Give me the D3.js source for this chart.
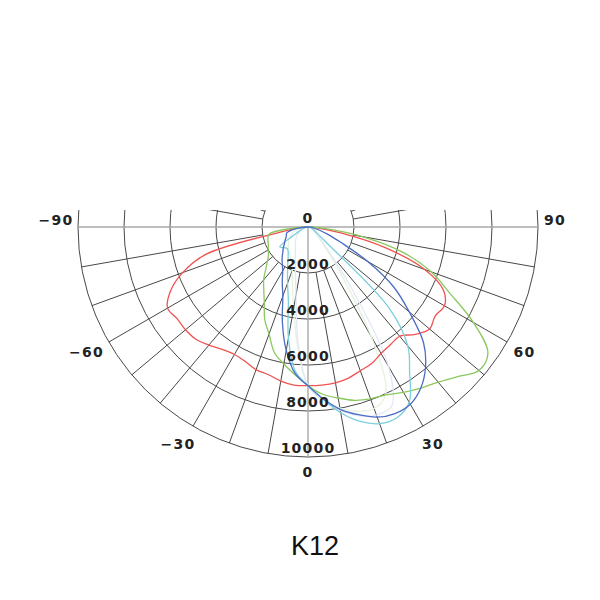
<!DOCTYPE html>
<html lang="en">
<head>
<meta charset="UTF-8">
<title>K12</title>
<style>
  body { margin: 0; background: #fff; }
  svg { display: block; background: #fff; }
  .grid { fill: none; stroke: #484848; stroke-width: 1; }
  .axis { stroke: #a8a8a8; stroke-width: 1.4; }
  .lbl { font-family: "DejaVu Sans", sans-serif; font-size: 14px; font-weight: bold; fill: #222; letter-spacing: 1.2px; }
  .title { font-family: "Liberation Sans", Arial, sans-serif; font-size: 27px; fill: #111; }
  .curve { fill: none; stroke-width: 1.3; }
</style>
</head>
<body>
<svg width="600" height="600"></svg>
<script src="https://cdnjs.cloudflare.com/ajax/libs/d3/7.8.5/d3.min.js"></script>
<script>
// gamma angles (deg), 0 = straight down, + to the right
const angles = [-90, -85, -80, -75, -70, -65, -60, -55, -50, -45, -40, -35, -30, -25, -20, -15, -10, -5,
  0, 5, 10, 15, 20, 25, 30, 35, 40, 45, 50, 55, 60, 65, 70, 75, 80, 85, 90];

// luminous intensity per plane (cd)
const red = [0, 300, 1000, 4600, 5800, 6600, 7050, 6950, 6950, 6900, 6700, 6500, 6400, 6450, 6600, 6650, 6800, 6900,
  6900, 6900, 6880, 6800, 6650, 6550, 6350, 6250, 6200, 6600, 6900, 6750, 6850, 6500, 5400, 3500, 1400, 300, 0];
const green = [0, 800, 1700, 1800, 1850, 1900, 2000, 2100, 2300, 2600, 3000, 3350, 3800, 4450, 4950, 5650, 6050, 6450,
  6900, 7300, 7550, 7800, 7950, 8050, 8300, 8550, 8800, 9200, 9700, 9550, 8300, 6800, 5700, 4300, 2400, 700, 0];
const blue = [0, 300, 700, 950, 1000, 1050, 1150, 1250, 1400, 1550, 1750, 1950, 2200, 2650, 3200, 4300, 5450, 6400,
  6900, 7500, 8050, 8450, 8800, 8950, 8900, 8550, 7950, 7100, 5750, 4550, 3000, 1550, 900, 500, 250, 100, 0];
const cyan = [0, 50, 100, 150, 250, 400, 700, 1500, 1400, 1300, 1350, 1500, 1750, 2100, 2600, 3300, 4900, 6300,
  6900, 7500, 8200, 8750, 9100, 9150, 8800, 7700, 6750, 5000, 1000, 500, 350, 250, 200, 150, 100, 50, 0];
const paleBlue = [0, 50, 100, 150, 250, 350, 450, 550, 650, 750, 850, 950, 1100, 1300, 1600, 2100, 3000, 5000,
  6900, 7600, 8100, 8500, 8700, 8600, 7000, 3500, 1500, 800, 500, 350, 250, 200, 150, 100, 80, 40, 0];
const paleGreen = [0, 100, 300, 500, 700, 800, 900, 1000, 1100, 1200, 1300, 1400, 1500, 1700, 2000, 2600, 3600, 5200,
  6900, 7500, 8000, 8300, 8400, 8000, 5500, 2500, 1200, 700, 450, 300, 200, 150, 120, 100, 70, 30, 0];

const ringTicks = [2000, 4000, 6000, 8000, 10000];
const angleLabels = [-90, -60, -30, 0, 30, 60, 90];

const series = [
  { name: "paleGreen", values: paleGreen, color: "#e6f2de" },
  { name: "paleBlue", values: paleBlue, color: "#e2e8f6" },
  { name: "red", values: red, color: "#f05252" },
  { name: "green", values: green, color: "#8cc85e" },
  { name: "cyan", values: cyan, color: "#7ccfdc" },
  { name: "blue", values: blue, color: "#4a6cc6" }
];

const cx = 308, cy = 227;
const svg = d3.select("svg");

const r = d3.scaleLinear().domain([0, 10000]).range([0, 230]);
const toRad = d => (180 - d) * Math.PI / 180; // d3 radial angle from gamma

svg.append("defs").append("clipPath").attr("id", "clip")
  .append("rect").attr("x", -300).attr("y", -17).attr("width", 600).attr("height", 400);

const g = svg.append("g").attr("transform", `translate(${cx},${cy})`);
const grid = g.append("g").attr("clip-path", "url(#clip)");

// rings
grid.selectAll("circle.ring")
  .data(ringTicks)
  .join("circle")
  .attr("class", "grid")
  .attr("r", d => r(d));

// spokes every 10 deg, from first ring outward
const spokes = d3.range(0, 360, 10).filter(a => a % 90 !== 0);
grid.selectAll("line.spoke")
  .data(spokes)
  .join("line")
  .attr("class", "grid")
  .attr("x1", a => r(2000) * Math.sin(a * Math.PI / 180))
  .attr("y1", a => r(2000) * Math.cos(a * Math.PI / 180))
  .attr("x2", a => r(10000) * Math.sin(a * Math.PI / 180))
  .attr("y2", a => r(10000) * Math.cos(a * Math.PI / 180));

// main axes
grid.append("line").attr("class", "axis")
  .attr("x1", -r(10000)).attr("x2", r(10000)).attr("y1", 0).attr("y2", 0);
grid.append("line").attr("class", "axis")
  .attr("x1", 0).attr("x2", 0).attr("y1", 0).attr("y2", r(10000));

// curves
const line = d3.lineRadial()
  .angle((d, i) => toRad(angles[i]))
  .radius(d => r(d))
  .curve(d3.curveCatmullRom.alpha(0.5));

g.selectAll("path.curve")
  .data(series)
  .join("path")
  .attr("class", "curve")
  .attr("stroke", d => d.color)
  .attr("d", d => line(d.values));

// ring labels
g.selectAll("text.ring")
  .data(ringTicks)
  .join("text")
  .attr("class", "lbl")
  .attr("text-anchor", "middle")
  .attr("x", 0)
  .attr("y", d => r(d) - 4)
  .text(d => d);

// angle labels
const fmt = v => (v < 0 ? "\u2212" : "") + Math.abs(v);
g.selectAll("text.ang")
  .data(angleLabels)
  .join("text")
  .attr("class", "lbl")
  .attr("text-anchor", "middle")
  .attr("dominant-baseline", "central")
  .attr("x", d => {
    const rr = Math.abs(d) === 90 ? 247 : (d === 0 ? 245 : 250);
    return rr * Math.sin(d * Math.PI / 180) - (d < 0 ? 5 : 0);
  })
  .attr("y", d => {
    const rr = d === 0 ? 245 : 250;
    return Math.abs(d) === 90 ? -7 : rr * Math.cos(d * Math.PI / 180);
  })
  .text(fmt);

// top zero label
g.append("text")
  .attr("class", "lbl")
  .attr("text-anchor", "middle")
  .attr("dominant-baseline", "central")
  .attr("x", 0).attr("y", -9)
  .text("0");

svg.append("text")
  .attr("class", "title")
  .attr("text-anchor", "middle")
  .attr("x", 315).attr("y", 555)
  .text("K12");
</script>
</body>
</html>
